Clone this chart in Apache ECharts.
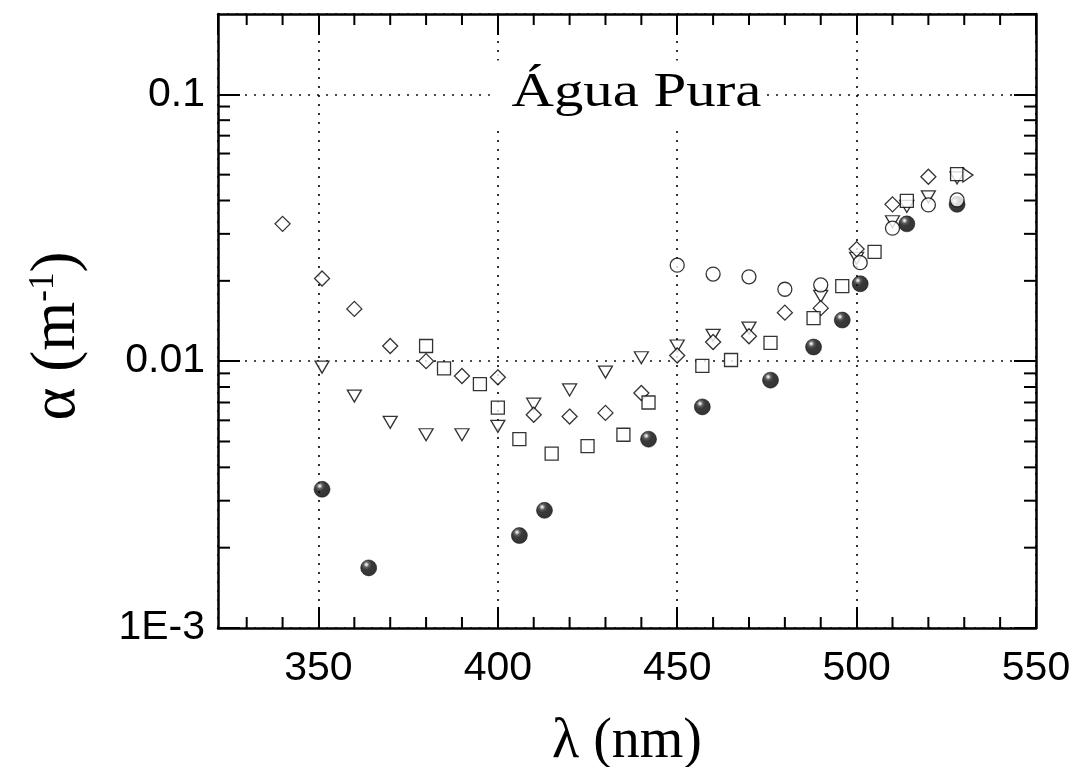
<!DOCTYPE html>
<html>
<head>
<meta charset="utf-8">
<script src="https://cdn.jsdelivr.net/npm/echarts@6/dist/echarts.min.js"></script>
<style>
html,body{margin:0;padding:0;background:#fff;overflow:hidden;}
#chart{width:1080px;height:767px;}
</style>
</head>
<body>
<div id="chart"></div>
<script>
// ---- data ----
const X_MIN = 322, X_MAX = 550;
const Y_MIN = 0.001, Y_MAX = 0.2;
const yTickValues = [0.001, 0.01, 0.1];
const yTickLabels = ['1E-3', '0.01', '0.1'];
const xMinorTicks = [330, 340, 360, 370, 380, 390, 410, 420, 430, 440, 460, 470, 480, 490, 510, 520, 530, 540];
const yMinorTicks = [0.002, 0.003, 0.004, 0.005, 0.006, 0.007, 0.008, 0.009,
                     0.02, 0.03, 0.04, 0.05, 0.06, 0.07, 0.08, 0.09];

const diamondX = [340, 351, 360, 370, 380, 390, 400, 410, 420, 430, 440, 450, 460, 470, 480, 490, 500, 510, 520];
const diamondY = [0.0327, 0.0204, 0.0157, 0.0114, 0.0100, 0.0088, 0.0087, 0.0063, 0.0062, 0.0064, 0.0076, 0.0105, 0.0118, 0.0124, 0.0152, 0.0158, 0.0263, 0.0387, 0.0491];

const triX = [351, 360, 370, 380, 390, 400, 410, 420, 430, 440, 450, 460, 470, 490, 500, 510, 514, 520, 528];
const triY = [0.0095, 0.0074, 0.0059, 0.0053, 0.0053, 0.0057, 0.0069, 0.0078, 0.0091, 0.0103, 0.0114, 0.0125, 0.0133, 0.0175, 0.0243, 0.0333, 0.0380, 0.0413, 0.0486];

const squareX = [380, 385, 395, 400, 406, 415, 425, 435, 442, 457, 465, 476, 488, 496, 505, 514, 528];
const squareY = [0.0114, 0.0094, 0.0082, 0.0067, 0.0051, 0.0045, 0.0048, 0.0053, 0.0070, 0.0096, 0.0101, 0.0117, 0.0145, 0.0191, 0.0257, 0.0399, 0.0502];

const circleX = [450, 460, 470, 480, 490, 501, 510, 520, 528];
const circleY = [0.0229, 0.0212, 0.0207, 0.0186, 0.0193, 0.0234, 0.0315, 0.0385, 0.0402];

const sphereX = [351, 364, 406, 413, 442, 457, 476, 488, 496, 501, 514, 528];
const sphereY = [0.00331, 0.00168, 0.00222, 0.00276, 0.0051, 0.00674, 0.00849, 0.0113, 0.01426, 0.0195, 0.0327, 0.0387];

const rtriX = [531];
const rtriY = [0.0498];

const titleText = 'Água Pura';

// ---- chart ----
const pair = (xs, ys) => xs.map((x, i) => [x, ys[i]]);
const chart = echarts.init(document.getElementById('chart'), null, {renderer: 'canvas'});

const openStyle = {color: '#fff', borderColor: '#000', borderWidth: 1.3};
const labelFont = {fontFamily: '"Liberation Sans", Arial, sans-serif', fontSize: 41, color: '#000'};
const gridLine = {show: true, lineStyle: {color: '#111', width: 1.7, type: [2, 7]}};
const axisLine = {show: true, onZero: false, lineStyle: {color: '#000', width: 2.5}};
const tickStyle = {lineStyle: {color: '#000', width: 2}};

const sphereColor = new echarts.graphic.RadialGradient(0.36, 0.3, 0.75, [
  {offset: 0, color: '#ffffff'},
  {offset: 0.08, color: '#c8c8c8'},
  {offset: 0.22, color: '#3a3a3a'},
  {offset: 0.42, color: '#080808'},
  {offset: 1, color: '#000'}
]);

const tickLine = (x1, y1, x2, y2) => ({type: 'line', shape: {x1, y1, x2, y2}, style: {stroke: '#000', lineWidth: 2}});

const option = {
  animation: false,
  backgroundColor: '#fff',
  grid: {left: 218, top: 14, right: 44, bottom: 139, containLabel: false, outerBoundsMode: 'none'},
  xAxis: [{
    type: 'value', min: X_MIN, max: X_MAX, position: 'bottom',
    axisLine: axisLine,
    axisTick: Object.assign({show: true, inside: true, length: 21}, tickStyle),
    axisLabel: Object.assign({show: true, margin: 20, showMinLabel: false}, labelFont),
    splitLine: gridLine,
    name: 'λ (nm)', nameLocation: 'middle', nameGap: 86,
    nameTextStyle: {fontFamily: '"Liberation Serif", "Times New Roman", serif', fontSize: 56, color: '#000'}
  }, {
    type: 'value', min: X_MIN, max: X_MAX, position: 'top',
    axisLine: axisLine,
    axisTick: Object.assign({show: true, inside: true, length: 21}, tickStyle),
    axisLabel: {show: false}, splitLine: {show: false}
  }],
  yAxis: [{
    type: 'log', logBase: 10, min: Y_MIN, max: Y_MAX, position: 'left',
    axisLine: axisLine,
    axisTick: Object.assign({show: true, inside: true, length: 22}, tickStyle),
    axisLabel: Object.assign({show: true, margin: 13, showMaxLabel: false,
      formatter: v => {
        const e = Math.round(Math.log10(v));
        const i = yTickValues.findIndex(t => Math.round(Math.log10(t)) === e);
        return i >= 0 ? yTickLabels[i] : '';
      }}, labelFont),
    splitLine: gridLine,
    name: '{a|α (m}{s|-1}{a|)}', nameLocation: 'middle', nameGap: 130,
    nameTextStyle: {
      padding: [0, 30, 0, 0],
      rich: {
        a: {fontFamily: '"Liberation Serif", "Times New Roman", serif', fontSize: 63, color: '#000', lineHeight: 62},
        s: {fontFamily: '"Liberation Serif", "Times New Roman", serif', fontSize: 35, color: '#000', verticalAlign: 'top', lineHeight: 62, padding: [0, 0, 30, 0]}
      }
    }
  }, {
    type: 'log', logBase: 10, min: Y_MIN, max: Y_MAX, position: 'right',
    axisLine: axisLine,
    axisTick: Object.assign({show: true, inside: true, length: 22}, tickStyle),
    axisLabel: {show: false}, splitLine: {show: false}
  }],
  graphic: [{
    type: 'text', x: 628, y: 93, scaleX: 1.2, z: 1,
    style: {
      text: titleText, font: '49px "Liberation Serif", "Times New Roman", serif', fill: '#000',
      align: 'center', verticalAlign: 'middle',
      backgroundColor: '#fff', padding: [8, 4, 8, 18]
    }
  }],
  series: [
    {
      type: 'custom', name: 'xminor', silent: true, z: 3,
      data: xMinorTicks.map(v => [v, Y_MIN]),
      renderItem: (params, api) => {
        const v = api.value(0);
        const b = api.coord([v, Y_MIN]);
        const t = api.coord([v, Y_MAX]);
        return {type: 'group', children: [tickLine(b[0], b[1], b[0], b[1] - 11), tickLine(t[0], t[1], t[0], t[1] + 11)]};
      }
    },
    {
      type: 'custom', name: 'yminor', silent: true, z: 3,
      data: yMinorTicks.map(v => [X_MIN, v]),
      renderItem: (params, api) => {
        const v = api.value(1);
        const l = api.coord([X_MIN, v]);
        const r = api.coord([X_MAX, v]);
        return {type: 'group', children: [tickLine(l[0], l[1], l[0] + 12, l[1]), tickLine(r[0], r[1], r[0] - 12, r[1])]};
      }
    },
    {type: 'scatter', name: 'spheres', data: pair(sphereX, sphereY), symbol: 'circle', symbolSize: 16,
     itemStyle: {color: sphereColor, borderColor: '#000', borderWidth: 0.6}, z: 4},
    {type: 'scatter', name: 'triangles', data: pair(triX, triY), symbol: 'triangle', symbolRotate: 180, symbolSize: [14, 12],
     itemStyle: openStyle, z: 5},
    {type: 'scatter', name: 'diamonds', data: pair(diamondX, diamondY), symbol: 'diamond', symbolSize: 15,
     itemStyle: openStyle, z: 6},
    {type: 'scatter', name: 'squares', data: pair(squareX, squareY), symbol: 'rect', symbolSize: 13,
     itemStyle: openStyle, z: 7},
    {type: 'scatter', name: 'circles', data: pair(circleX, circleY), symbol: 'circle', symbolSize: 14,
     itemStyle: openStyle, z: 8},
    {type: 'scatter', name: 'rtriangle', data: pair(rtriX, rtriY), symbol: 'triangle', symbolRotate: -90, symbolSize: [14, 10],
     itemStyle: openStyle, z: 9}
  ]
};
chart.setOption(option);
</script>
</body>
</html>
